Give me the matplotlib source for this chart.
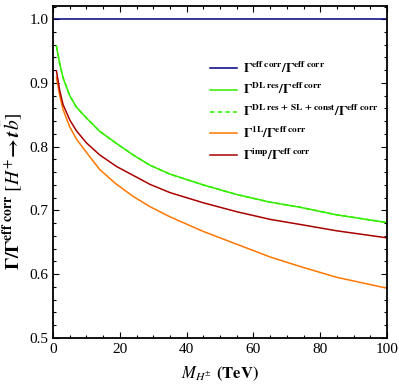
import matplotlib
matplotlib.use("Agg")
import matplotlib.pyplot as plt
from matplotlib.ticker import MultipleLocator

plt.rcParams['mathtext.fontset'] = 'stix'
plt.rcParams['font.family'] = ['Liberation Serif', 'DejaVu Serif']

# charged Higgs mass (TeV)
mass = [1, 2, 3, 5, 7, 10, 14, 19, 24, 29, 35, 45, 55, 65, 74, 85, 100]

# ratios to the effective corrected width
eff_corr = [1.0] * len(mass)
dl_res = [0.958, 0.930, 0.908, 0.880, 0.862, 0.845, 0.824, 0.805, 0.787,
          0.771, 0.757, 0.740, 0.725, 0.713, 0.705, 0.693, 0.681]
dl_res_sl = dl_res
one_loop = [0.909, 0.880, 0.858, 0.831, 0.812, 0.791, 0.764, 0.741, 0.722,
            0.706, 0.690, 0.667, 0.647, 0.627, 0.612, 0.595, 0.578]
improved = [0.919, 0.888, 0.866, 0.842, 0.825, 0.806, 0.787, 0.769, 0.755,
            0.741, 0.728, 0.712, 0.698, 0.686, 0.678, 0.668, 0.657]

blue_x = [0, 100]
blue_y = [1.0, 1.0]

fig = plt.figure(figsize=(3.99, 3.92), dpi=100)
ax = fig.add_axes([0.133, 0.138, 0.837, 0.847])

lw = 1.1
ax.plot(blue_x, blue_y, color='#00007f', lw=lw,
        label=r'$\mathbf{\Gamma^{eff\ corr}/\Gamma^{eff\ corr}}$')
ax.plot(mass, dl_res_sl, color='#33ee00', lw=lw, ls=(0, (3, 2)), zorder=1,
        label=r'$\mathbf{\Gamma^{DL\ res\,+\,SL\,+\,const}/\Gamma^{eff\ corr}}$')
ax.plot(mass, dl_res, color='#33ee00', lw=lw, zorder=2,
        label=r'$\mathbf{\Gamma^{DL\ res}/\Gamma^{eff\ corr}}$')
ax.plot(mass, one_loop, color='#ff7700', lw=lw,
        label=r'$\mathbf{\Gamma^{1L}/\Gamma^{eff\ corr}}$')
ax.plot(mass, improved, color='#a80000', lw=lw,
        label=r'$\mathbf{\Gamma^{imp}/\Gamma^{eff\ corr}}$')

h, l = ax.get_legend_handles_labels()
order = [0, 2, 1, 3, 4]
ax.legend([h[i] for i in order], [l[i] for i in order], loc='upper left',
          bbox_to_anchor=(0.47, 0.835), frameon=False, fontsize=9.5,
          handlelength=2.05, labelspacing=0.5, handletextpad=0.45,
          borderpad=0, borderaxespad=0)

ax.set_xlim(0, 100)
ax.set_ylim(0.5, 1.021)
ax.xaxis.set_major_locator(MultipleLocator(20))
ax.xaxis.set_minor_locator(MultipleLocator(5))
ax.yaxis.set_major_locator(MultipleLocator(0.1))
ax.yaxis.set_minor_locator(MultipleLocator(0.02))
ax.tick_params(which='both', direction='in', top=True, right=True,
               labelsize=11, width=0.8)
ax.tick_params(which='major', length=4)
ax.tick_params(which='minor', length=2)
for s in ax.spines.values():
    s.set_linewidth(1.3)

ax.set_xlabel(r'$\boldsymbol{M_{H^{\pm}}}$ $\mathbf{(TeV)}$', fontsize=12, labelpad=6)
ax.set_ylabel(r'$\mathbf{\Gamma/\Gamma^{eff\ corr}}\ [\boldsymbol{H^{+}\!\to t\,\bar{b}}]$',
              fontsize=14)
ax.yaxis.set_label_coords(-0.088, 0.443)

fig.savefig('out.png', dpi=100)
